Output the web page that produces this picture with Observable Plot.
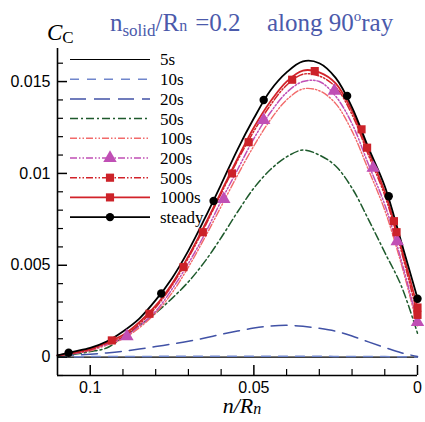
<!DOCTYPE html>
<html><head><meta charset="utf-8">
<script src="https://cdn.jsdelivr.net/npm/d3@7"></script>
<script src="https://cdn.jsdelivr.net/npm/@observablehq/plot@0.6"></script>
<style>body{margin:0;background:#fff} svg{display:block}</style>
</head><body><div id="chart"></div>
<script>
// ---- data ----
const seriesNames = ["5s","10s","20s","50s","100s","200s","500s","1000s","steady"];
const xs = [0.11,0.105,0.1,0.095,0.09,0.085,0.08,0.075,0.07,0.065,0.06,0.055,0.05,0.045,0.04,0.035,0.03,0.025,0.02,0.015,0.01,0.005,0];
const c5s    = [0,0,0,0,0,0,0,0,0,0,0,0,0,0,0,0,0,0,0,0,0,0,0];
const c10s   = [0.00001,0.00002,0.00003,0.00003,0.00004,0.00004,0.00004,0.00005,0.00005,0.00005,0.00005,0.00005,0.00005,0.00005,0.00005,0.00005,0.00005,0.00004,0.00004,0.00004,0.00003,0.00002,0.00001];
const c20s   = [0.00008,0.00011,0.00016,0.00023,0.00032,0.00044,0.00058,0.00071,0.00086,0.00104,0.00124,0.00142,0.00158,0.00169,0.00173,0.00168,0.00157,0.00141,0.00115,0.00083,0.00053,0.00024,0.00003];
const c50s   = [0.00005,0.00015,0.0003,0.0005,0.00107,0.0017,0.0024,0.0032,0.0041,0.0052,0.0065,0.0079,0.0092,0.0102,0.0109,0.01127,0.0110,0.0104,0.0092,0.0075,0.0057,0.0039,0.0013];
const c100s  = [0.0001,0.0002,0.00035,0.00065,0.001,0.0016,0.0024,0.0035,0.0049,0.0065,0.0082,0.0099,0.0115,0.0129,0.0140,0.0146,0.0145,0.0138,0.0123,0.0102,0.0080,0.0051,0.0017];
const c200s  = [0.0001,0.0002,0.0004,0.0007,0.00105,0.0017,0.0025,0.0037,0.0051,0.0067,0.0085,0.0102,0.0119,0.0133,0.0144,0.0150,0.0150,0.0142,0.0127,0.0105,0.0083,0.0053,0.0019];
const c500s  = [0.0001,0.00022,0.0004,0.00075,0.0011,0.0018,0.0027,0.0039,0.0054,0.0071,0.0089,0.0107,0.0123,0.0137,0.0148,0.0154,0.0153,0.0147,0.0132,0.0110,0.0088,0.0058,0.0023];
const c1000s = [0.0001,0.00025,0.00045,0.0008,0.0012,0.0019,0.0028,0.0040,0.0055,0.0072,0.0090,0.0108,0.0125,0.0139,0.0150,0.0156,0.0155,0.0149,0.0134,0.0112,0.0090,0.0060,0.0027];
const cSteady= [0.0001,0.0003,0.0005,0.00085,0.0014,0.0021,0.0031,0.0043,0.0058,0.00755,0.0094,0.0113,0.0130,0.0145,0.0155,0.0161,0.0160,0.0152,0.0136,0.0114,0.0093,0.0063,0.0032];
const seriesValues = [c5s,c10s,c20s,c50s,c100s,c200s,c500s,c1000s,cSteady];

// marker points
const m200x = [0.0888,0.0592,0.047,0.0254,0.01355,0.0062,0];
const m200y = [0.00113,0.0086,0.0129,0.0145,0.0103,0.0063,0.0019];
const m500x = [0.0819,0.0656,0.0516,0.0383,0.0154,0.0064,0];
const m500y = [0.00236,0.0068,0.0117,0.0151,0.0114,0.0068,0.0023];
const m1000x = [0.0934,0.0715,0.0567,0.0314,0.0171,0.0072,0];
const m1000y = [0.00091,0.0049,0.0100,0.01557,0.0124,0.0074,0.0027];
const mSteadyx = [0.1066,0.0783,0.0623,0.047,0.0215,0.0088,0];
const mSteadyy = [0.00024,0.00346,0.0085,0.0140,0.01422,0.00876,0.00318];

// ticks
const yMajor = [0,0.005,0.01,0.015];
const yMajorLabels = ["0","0.005","0.01","0.015"];
const yMinor = [-0.001,0.001,0.002,0.003,0.004,0.006,0.007,0.008,0.009,0.011,0.012,0.013,0.014,0.016];
const xMajor = [0.1,0.05,0];
const xMajorLabels = ["0.1","0.05","0"];
const xMinor = [0.09,0.08,0.07,0.06,0.04,0.03,0.02,0.01];

// ---- styles ----
const styles = {
  "5s":    {stroke:"#000000", width:1.1, dash:null},
  "10s":   {stroke:"#7086cc", width:1.5, dash:"9,8"},
  "20s":   {stroke:"#4152a6", width:1.5, dash:"16,8"},
  "50s":   {stroke:"#1e5a2c", width:1.5, dash:"8,3,2,3"},
  "100s":  {stroke:"#f26a6a", width:1.4, dash:"7,2,1.5,2,1.5,2"},
  "200s":  {stroke:"#c04fb5", width:1.5, dash:"7,2,1.5,2,1.5,2"},
  "500s":  {stroke:"#d2232a", width:1.5, dash:"7,2,1.5,2,1.5,2"},
  "1000s": {stroke:"#d2232a", width:1.8, dash:null},
  "steady":{stroke:"#000000", width:1.8, dash:null}
};

const table = seriesNames.map((name, k) => xs.map((x, i) => ({series: name, x, y: seriesValues[k][i]})));
const pts = (X, Y) => X.map((x, i) => ({x, y: Y[i]}));

const marks = [];
seriesNames.forEach((name, k) => {
  const s = styles[name];
  marks.push(Plot.line(table[k], {x:"x", y:"y", stroke:s.stroke, strokeWidth:s.width, strokeDasharray:s.dash, curve:"catmull-rom"}));
});
marks.push(Plot.dot(pts(m200x,m200y), {x:"x", y:"y", symbol:"triangle", r:5, fill:"#c04fb5"}));
marks.push(Plot.dot(pts(m500x,m500y), {x:"x", y:"y", symbol:"square", r:4.6, fill:"#cc2229"}));
marks.push(Plot.dot(pts(m1000x,m1000y), {x:"x", y:"y", symbol:"square", r:4.6, fill:"#cc2229"}));
marks.push(Plot.dot(pts(mSteadyx,mSteadyy), {x:"x", y:"y", symbol:"circle", r:4.2, fill:"#000"}));

// axes
marks.push(Plot.axisY({ticks: yMinor, tickSize:-6, tickFormat:()=>"", strokeWidth:1.2, label:null}));
marks.push(Plot.axisY({ticks: yMajor, tickSize:-10, tickFormat:()=>"", strokeWidth:1.5, label:null}));
marks.push(Plot.axisY({ticks: yMajor, tickSize:0, tickPadding:7, tickFormat:(d)=>yMajorLabels[yMajor.indexOf(d)], fontSize:16, label:null}));
marks.push(Plot.axisX({ticks: xMinor, tickSize:-6, tickFormat:()=>"", strokeWidth:1.2, label:null}));
marks.push(Plot.axisX({ticks: xMajor, tickSize:-10, tickFormat:()=>"", strokeWidth:1.5, label:null}));
marks.push(Plot.axisX({ticks: xMajor, tickSize:0, tickPadding:6, tickFormat:(d)=>xMajorLabels[xMajor.indexOf(d)], fontSize:16, label:null}));
marks.push(Plot.ruleX([0.11], {stroke:"#000", strokeWidth:1.6}));
marks.push(Plot.ruleY([-0.001], {stroke:"#000", strokeWidth:1.6}));

const chart = Plot.plot({
  width:425, height:422,
  marginLeft:57, marginRight:8, marginTop:48, marginBottom:47,
  style:{fontFamily:"'Liberation Sans', Arial, sans-serif", fontSize:"16px", color:"#000", background:"#fff"},
  x:{domain:[0.11,0], axis:null},
  y:{domain:[-0.001,0.0168], axis:null},
  marks
});
document.getElementById("chart").appendChild(chart);

// ---- annotations ----
const svg = d3.select(chart);
const serif = "'Liberation Serif', 'Times New Roman', serif";
const t = svg.append("text").attr("y",31).attr("text-anchor","start").attr("fill","#4b5aab").style("font-family",serif).style("font-size","25px");
t.append("tspan").attr("x",110).text("n");
t.append("tspan").style("font-size","17px").attr("dy",5).text("solid");
t.append("tspan").attr("dy",-5).text("/R");
t.append("tspan").style("font-size","16px").text("n");
t.append("tspan").attr("dx",8).text("=0.2");
t.append("tspan").attr("x",267).text("along 90");
t.append("tspan").style("font-size","15px").attr("dy",-10).text("o");
t.append("tspan").attr("dy",10).text("ray");

const yl = svg.append("text").attr("x",47).attr("y",40).attr("text-anchor","start").style("font-family",serif).attr("fill","#000");
yl.append("tspan").style("font-size","23px").style("font-style","italic").text("C");
yl.append("tspan").style("font-size","17px").attr("dy",3).text("C");

const xl = svg.append("text").attr("x",242).attr("y",413).attr("text-anchor","middle").style("font-family",serif).style("font-style","italic").attr("fill","#000");
xl.append("tspan").style("font-size","22px").text("n/R");
xl.append("tspan").style("font-size","16px").attr("dy",1).text("n");

// legend
const lg = svg.append("g").attr("text-anchor","start");
const legendMarker = {"200s":"triangle","500s":"square","1000s":"square","steady":"circle"};
const markerFill = {"200s":"#c04fb5","500s":"#cc2229","1000s":"#cc2229","steady":"#000"};
seriesNames.forEach((name, i) => {
  const s = styles[name];
  const yy = 59.5 + i*19.7;
  lg.append("line").attr("x1",70).attr("x2",150).attr("y1",yy).attr("y2",yy)
    .attr("stroke",s.stroke).attr("stroke-width",s.width).attr("stroke-dasharray",s.dash);
  if (legendMarker[name]) {
    const sym = legendMarker[name]==="triangle" ? d3.symbolTriangle : legendMarker[name]==="square" ? d3.symbolSquare : d3.symbolCircle;
    const r = legendMarker[name]==="triangle" ? 5 : legendMarker[name]==="square" ? 4.6 : 4.2;
    lg.append("path").attr("d", d3.symbol(sym, r*r*Math.PI)()).attr("transform",`translate(110,${yy})`).attr("fill",markerFill[name]);
  }
  lg.append("text").attr("x",160).attr("y",yy).attr("dy","0.35em").attr("text-anchor","start").style("font-family",serif).style("font-size","17px").attr("fill","#000").text(name);
});
</script></body></html>
